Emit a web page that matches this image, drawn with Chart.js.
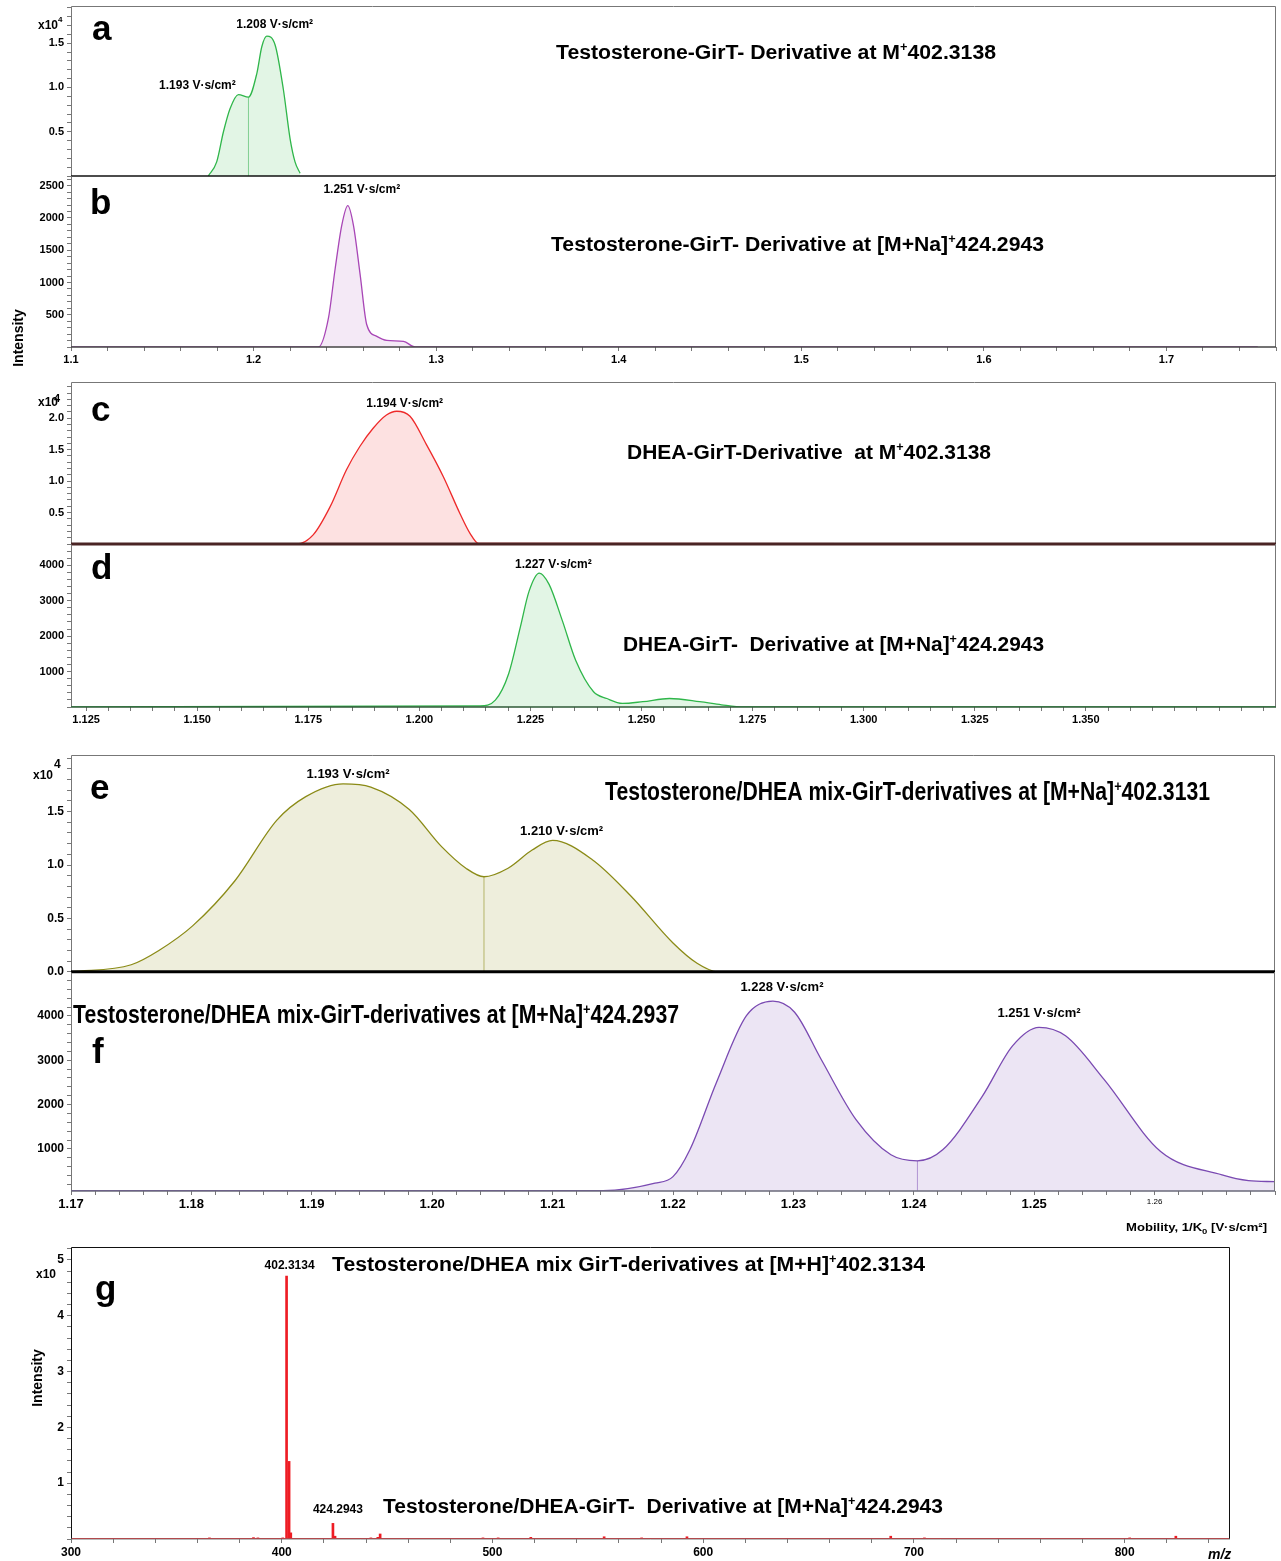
<!DOCTYPE html>
<html>
<head>
<meta charset="utf-8">
<title>GirT derivatives - mobilograms and mass spectrum</title>
<script src="https://cdn.jsdelivr.net/npm/chart.js@4.4.1/dist/chart.umd.min.js"></script>
<style>
  html, body { margin: 0; padding: 0; background: #fff; }
  #page { position: relative; width: 1281px; height: 1561px; overflow: hidden; }
  #page canvas { position: absolute; left: 0; }
</style>
</head>
<body>
<div id="page"></div>
<script>
// ---- data ----
// a: Testosterone-GirT M+ 402.3138  (intensity x10^4)
const aMob = [1.1752, 1.1798, 1.1835, 1.1871, 1.1917, 1.1972, 1.2018, 1.2045, 1.2072, 1.2118, 1.2163, 1.2200, 1.2227, 1.2255];
const aInt = [0, 0.16, 0.50, 0.76, 0.92, 0.89, 1.16, 1.46, 1.58, 1.48, 0.98, 0.42, 0.16, 0.03];
const aSplit = [1.1972, 0.89];
const aPeakIdx = [8, 4];
const aPeakTxt = ['1.208 V·s/cm²', '1.193 V·s/cm²'];

// b: Testosterone-GirT [M+Na]+ 424.2943
const bMob = [1.10, 1.2355, 1.2410, 1.2447, 1.2483, 1.2516, 1.2547, 1.2584, 1.2620, 1.2675, 1.2730, 1.2821, 1.2885, 1.75];
const bInt = [0, 0, 447, 1217, 1885, 2190, 1885, 1114, 344, 165, 103, 88, 0, 0];
const bPeakIdx = [5];
const bPeakTxt = ['1.251 V·s/cm²'];

// c: DHEA-GirT M+ 402.3138 (x10^4)
const cMob = [1.1216, 1.1724, 1.1761, 1.1799, 1.1836, 1.1866, 1.1896, 1.1926, 1.1949, 1.1979, 1.2016, 1.2054, 1.2091, 1.2114, 1.2133, 1.3928];
const cInt = [0, 0, 0.145, 0.59, 1.18, 1.55, 1.84, 2.05, 2.11, 2.03, 1.58, 1.07, 0.49, 0.17, 0.01, 0];
const cPeakIdx = [8];
const cPeakTxt = ['1.194 V·s/cm²'];

// d: DHEA-GirT [M+Na]+ 424.2943
const dMob = [1.1216, 1.2136, 1.2171, 1.2201, 1.2227, 1.2247, 1.2270, 1.2292, 1.2322, 1.2352, 1.2392, 1.2422, 1.2457, 1.2503, 1.2563, 1.2631, 1.2680, 1.2730, 1.3928];
const dInt = [0, 30, 195, 940, 2240, 3270, 3780, 3460, 2430, 1310, 430, 240, 100, 150, 240, 150, 60, 0, 0];
const dPeakIdx = [6];
const dPeakTxt = ['1.227 V·s/cm²'];

// e: mix [M+Na]+ 402.3131 (x10^4)
const eMob = [1.1700, 1.1750, 1.1773, 1.1801, 1.1836, 1.1871, 1.1895, 1.1926, 1.1949, 1.1981, 1.2008, 1.2028, 1.2043, 1.2063, 1.2083, 1.2100, 1.2133, 1.2165, 1.2200, 1.2220, 1.2237, 1.2700];
const eInt = [0, 0.066, 0.20, 0.43, 0.85, 1.42, 1.64, 1.76, 1.73, 1.52, 1.17, 0.97, 0.89, 0.97, 1.14, 1.23, 1.05, 0.71, 0.27, 0.08, 0, 0];
const eSplit = [1.2043, 0.89];
const ePeakIdx = [7, 15];
const ePeakTxt = ['1.193 V·s/cm²', '1.210 V·s/cm²'];

// f: mix [M+Na]+ 424.2937
const fMob = [1.1700, 1.2142, 1.2185, 1.2200, 1.2214, 1.2236, 1.2261, 1.2283, 1.2301, 1.2323, 1.2352, 1.2381, 1.2403, 1.2424, 1.2457, 1.2482, 1.2504, 1.2526, 1.2558, 1.2605, 1.2656, 1.2678, 1.2700];
const fInt = [57, 57, 225, 374, 980, 2494, 4005, 4332, 4082, 3022, 1661, 867, 731, 980, 2190, 3324, 3742, 3551, 2569, 942, 413, 284, 261];
const fSplit = [1.2403, 731];
const fPeakIdx = [7, 16];
const fPeakTxt = ['1.228 V·s/cm²', '1.251 V·s/cm²'];

// g: mass spectrum (intensity x10^5)
const gMz = [365.7, 386.6, 388.7, 400.5, 402.3, 403.5, 404.3, 424.3, 425.3, 442.3, 445.6, 446.7, 495.5, 502.7, 518.2, 553.0, 570.8, 592.3, 689.0, 705.0, 802.4, 824.3];
const gInt = [0.02, 0.025, 0.02, 0.02, 4.71, 1.39, 0.11, 0.28, 0.05, 0.02, 0.03, 0.09, 0.02, 0.02, 0.03, 0.04, 0.02, 0.04, 0.05, 0.02, 0.02, 0.05];
const gRange = [300, 850];
const gPeakIdx = [4, 7];
const gPeakTxt = ['402.3134', '424.2943'];

// ---- helpers ----
const F = '"Liberation Sans", Arial, sans-serif';
const FN = '"Liberation Sans Narrow", "Liberation Sans", Arial, sans-serif';
const B = (s, fam) => 'bold ' + s + 'px ' + (fam || F);
const page = document.getElementById('page');

function pts(xs, ys) { return xs.map((x, i) => ({ x: x, y: ys[i] })); }

function curve(xs, ys, line, fill) {
    return { type: 'line', data: pts(xs, ys), borderColor: line, backgroundColor: fill, borderWidth: 1.3,
             fill: 'start', cubicInterpolationMode: 'monotone', pointRadius: 0 };
}
function split(at, base, line) {
    return { type: 'line', data: [{ x: at[0], y: base }, { x: at[0], y: at[1] }], borderColor: line,
             borderWidth: 1, fill: false, pointRadius: 0 };
}
function peaks(xs, ys, idx, txt, offs) {
    return idx.map((i, k) => ({ x: xs[i], y: ys[i], text: txt[k], dx: offs[k][0], dy: offs[k][1] }));
}
function tickFmt(every, dec, showZero, maxLabel) {
    return function (v) {
        const k = v / every;
        if (Math.abs(k - Math.round(k)) > 1e-6) return '';
        if (!showZero && Math.abs(v) < 1e-9) return '';
        if (maxLabel !== undefined && v > maxLabel + 1e-9) return '';
        return v.toFixed(dec);
    };
}

const framePlugin = {
    id: 'frame',
    afterDatasetsDraw(chart, args, o) {
        const a = chart.chartArea, ctx = chart.ctx;
        ctx.save();
        ctx.strokeStyle = o.color || '#777';
        ctx.lineWidth = 1;
        ctx.beginPath();
        ctx.moveTo(a.left + 0.5, a.bottom);
        ctx.lineTo(a.left + 0.5, a.top + 0.5);
        if (!o.noTop) ctx.lineTo(a.right - 0.5, a.top + 0.5); else ctx.moveTo(a.right - 0.5, a.top);
        ctx.lineTo(a.right - 0.5, a.bottom);
        ctx.stroke();
        ctx.strokeStyle = o.bottomColor || '#333';
        ctx.lineWidth = o.bottomWidth || 1.5;
        ctx.beginPath();
        ctx.moveTo(a.left, a.bottom);
        ctx.lineTo(a.right, a.bottom);
        ctx.stroke();
        ctx.fillStyle = '#000';
        ctx.textAlign = 'center';
        ctx.textBaseline = 'alphabetic';
        ctx.font = o.labelFont || B(12);
        (o.peaks || []).forEach(pk => {
            const px = chart.scales.x.getPixelForValue(pk.x), py = chart.scales.y.getPixelForValue(pk.y);
            ctx.fillText(pk.text, px + pk.dx, py + pk.dy);
        });
        ctx.restore();
    }
};

function panel(p) {
    const padT = 12, padR = 6, xh = p.xTicks ? 30 : 0, padB = p.xTicks ? 2 : 10;
    const cv = document.createElement('canvas');
    const w = p.right + padR;
    const h = (p.bottom - p.top) + padT + xh + padB;
    cv.width = w; cv.height = h;
    cv.style.top = (p.top - padT) + 'px';
    cv.style.width = w + 'px'; cv.style.height = h + 'px';
    page.appendChild(cv);
    return new Chart(cv, {
        type: p.type || 'line',
        data: { datasets: p.datasets },
        options: {
            responsive: false,
            animation: false,
            events: [],
            layout: { padding: { top: padT, right: padR, bottom: padB, left: 0 } },
            plugins: { legend: { display: false }, tooltip: { enabled: false }, frame: p.frame },
            scales: {
                x: {
                    type: 'linear', min: p.x[0], max: p.x[1], offset: false, display: !!p.xTicks,
                    afterFit: s => { s.height = xh; },
                    border: { display: false },
                    grid: { drawOnChartArea: false, offset: false, tickLength: 4, color: '#777' },
                    ticks: { stepSize: p.x[2], includeBounds: false, autoSkip: false, maxRotation: 0, minRotation: 0, padding: 2,
                             color: '#000', font: p.xFont, callback: tickFmt(p.x[3], p.x[4], true, p.x[5]) }
                },
                y: {
                    type: 'linear', min: p.y[0], max: p.y[1],
                    afterFit: s => { s.width = 71; },
                    border: { display: false },
                    grid: { drawOnChartArea: false, tickLength: 4, color: '#777' },
                    ticks: { stepSize: p.y[2], includeBounds: false, autoSkip: false, padding: 3, color: '#000', font: p.yFont,
                             callback: tickFmt(p.y[3], p.y[4], p.y[5], p.y[6]) }
                }
            }
        },
        plugins: [framePlugin]
    });
}

const tickFont = { family: F, size: 11, weight: 'bold' };
const narrowFont = { family: FN, size: 12, weight: 'bold' };

// ---- a ----
panel({
    top: 6, bottom: 176, right: 1276,
    x: [1.10, 1.76, 0.02, 0.1, 1], y: [0, 1.92, 0.1, 0.5, 1, false],
    yFont: tickFont,
    datasets: [curve(aMob, aInt, '#2fb64a', 'rgba(47,182,74,0.14)'), split(aSplit, 0, '#8fd39c')],
    frame: { color: '#777', bottomColor: '#111', bottomWidth: 1.5,
             peaks: peaks(aMob, aInt, aPeakIdx, aPeakTxt, [[8, -8], [-41, -6]]) }
});

// ---- b ----
panel({
    top: 176, bottom: 347, right: 1276, xTicks: true,
    x: [1.10, 1.76, 0.02, 0.1, 1], y: [0, 2650, 100, 500, 0, false],
    xFont: tickFont, yFont: tickFont,
    datasets: [curve(bMob, bInt, '#a846b6', 'rgba(168,70,182,0.12)')],
    frame: { color: '#777', noTop: true, bottomColor: '#444', bottomWidth: 1.5,
             peaks: peaks(bMob, bInt, bPeakIdx, bPeakTxt, [[14, -13]]) }
});

// ---- c ----
panel({
    top: 382, bottom: 544, right: 1276,
    x: [1.1216, 1.3928, 0.005, 0.025, 3, 1.35], y: [0, 2.575, 0.1, 0.5, 1, false, 2.1],
    yFont: tickFont,
    datasets: [curve(cMob, cInt, '#ee2a2a', 'rgba(238,42,42,0.14)')],
    frame: { color: '#777', bottomColor: '#4a2424', bottomWidth: 3,
             peaks: peaks(cMob, cInt, cPeakIdx, cPeakTxt, [[8, -4]]) }
});

// ---- d ----
panel({
    top: 544, bottom: 707, right: 1276, xTicks: true,
    x: [1.1216, 1.3928, 0.005, 0.025, 3, 1.35], y: [0, 4600, 200, 1000, 0, false],
    xFont: tickFont, yFont: tickFont,
    datasets: [curve(dMob, dInt, '#2fb64a', 'rgba(47,182,74,0.14)')],
    frame: { color: '#777', noTop: true, bottomColor: '#2f5a37', bottomWidth: 1.5,
             peaks: peaks(dMob, dInt, dPeakIdx, dPeakTxt, [[14, -5]]) }
});

// ---- e ----
panel({
    top: 755, bottom: 972, right: 1275,
    x: [1.17, 1.27, 0.002, 0.01, 2, 1.265], y: [0, 2.03, 0.1, 0.5, 1, true, 1.6],
    yFont: narrowFont,
    datasets: [curve(eMob, eInt, '#8b8b17', 'rgba(139,139,23,0.15)'), split(eSplit, 0, '#bcbc78')],
    frame: { color: '#777', bottomColor: '#000', bottomWidth: 3, labelFont: B(13, FN),
             peaks: peaks(eMob, eInt, ePeakIdx, ePeakTxt, [[5, -6], [9, -5]]) }
});

// ---- f ----
panel({
    top: 972, bottom: 1191, right: 1275, xTicks: true,
    x: [1.17, 1.27, 0.002, 0.01, 2, 1.265], y: [50, 4990, 200, 1000, 0, false],
    xFont: c => (c.tick && Math.abs(c.tick.value - 1.26) < 1e-6) ? { family: FN, size: 8, weight: 'normal' } : { family: FN, size: 13, weight: 'bold' },
    yFont: narrowFont,
    datasets: [curve(fMob, fInt, '#7a4ab2', 'rgba(122,74,178,0.14)'), split(fSplit, 57, '#b9a0d8')],
    frame: { color: '#777', noTop: true, bottomColor: '#6a6a7a', bottomWidth: 1.5, labelFont: B(13, FN),
             peaks: peaks(fMob, fInt, fPeakIdx, fPeakTxt, [[9, -10], [0, -10]]) }
});

// ---- g ----
panel({
    type: 'bar',
    top: 1247, bottom: 1539, right: 1230, xTicks: true,
    x: [gRange[0], gRange[1], 20, 100, 0], y: [0, 5.23, 0.2, 1, 0, false],
    xFont: { family: F, size: 12, weight: 'bold' }, yFont: { family: F, size: 12, weight: 'bold' },
    datasets: [
        { type: 'bar', data: pts(gMz, gInt), backgroundColor: '#ee1c24', barThickness: 2, grouped: false, borderWidth: 0 },
        { type: 'line', data: [{ x: gRange[0], y: 0 }, { x: gRange[1], y: 0 }], borderColor: '#ee1c24', borderWidth: 2, pointRadius: 0, fill: false }
    ],
    frame: { color: '#111', bottomColor: '#777', bottomWidth: 1,
             peaks: peaks(gMz, gInt, gPeakIdx, gPeakTxt, [[3, -7], [5, -10]]) }
});

// ---- text overlay: panel letters, titles, axis titles ----
const ov = document.createElement('canvas');
ov.width = 1281; ov.height = 1561;
ov.style.top = '0px'; ov.style.width = '1281px'; ov.style.height = '1561px';
page.appendChild(ov);
const g = ov.getContext('2d');
g.fillStyle = '#000';
g.textBaseline = 'alphabetic';

function put(parts, x, y, w) {
    let total = 0;
    parts.forEach(pt => { g.font = pt[1]; pt.w = g.measureText(pt[0]).width; total += pt.w; });
    const sx = w ? w / total : 1;
    g.save();
    g.translate(x, y);
    g.scale(sx, 1);
    let cx = 0;
    parts.forEach(pt => { g.font = pt[1]; g.fillText(pt[0], cx, pt[2] || 0); cx += pt.w; });
    g.restore();
}
function title(pre, post, x, y, w, size, fam) {
    put([[pre, B(size, fam)], ['+', B(Math.round(size * 0.6), fam), -size * 0.38], [post, B(size, fam)]], x, y, w);
}
function vertical(text, x, y, font) {
    g.save();
    g.translate(x, y);
    g.rotate(-Math.PI / 2);
    g.font = font;
    g.textAlign = 'center';
    g.fillText(text, 0, 0);
    g.restore();
}

title('Testosterone-GirT- Derivative at M', '402.3138', 556, 59, 440, 20);
title('Testosterone-GirT- Derivative at [M+Na]', '424.2943', 551, 251, 493, 20);
title('DHEA-GirT-Derivative  at M', '402.3138', 627, 459, 364, 20);
title('DHEA-GirT-  Derivative at [M+Na]', '424.2943', 623, 651, 421, 20);
title('Testosterone/DHEA mix-GirT-derivatives at [M+Na]', '402.3131', 605, 800, 605, 25, FN);
title('Testosterone/DHEA mix-GirT-derivatives at [M+Na]', '424.2937', 73, 1023, 606, 25, FN);
title('Testosterone/DHEA mix GirT-derivatives at [M+H]', '402.3134', 332, 1271, 593, 20);
title('Testosterone/DHEA-GirT-  Derivative at [M+Na]', '424.2943', 383, 1513, 560, 20);

put([['a', B(35)]], 92, 40);
put([['b', B(35)]], 90, 214);
put([['c', B(35)]], 91, 421);
put([['d', B(35)]], 91, 579);
put([['e', B(35, FN)]], 90, 799);
put([['f', B(35, FN)]], 92, 1063);
put([['g', B(35)]], 95, 1300);

put([['x10', B(12)], ['4', B(8), -7]], 38, 29);
put([['x10', B(12)]], 38, 406);
put([['4', B(11)]], 54, 402);
put([['x10', B(12, FN)]], 33, 779);
put([['4', B(12, FN)]], 54, 768);
put([['x10', B(12)]], 36, 1278);

vertical('Intensity', 23, 338, B(14));
vertical('Intensity', 42, 1378, B(14));

put([['Mobility, 1/K', B(11)], ['0', B(8), 3], [' [V·s/cm²]', B(11)]], 1126, 1231, 141);
put([['m/z', 'italic bold 14px ' + F]], 1208, 1559);
</script>
</body>
</html>
